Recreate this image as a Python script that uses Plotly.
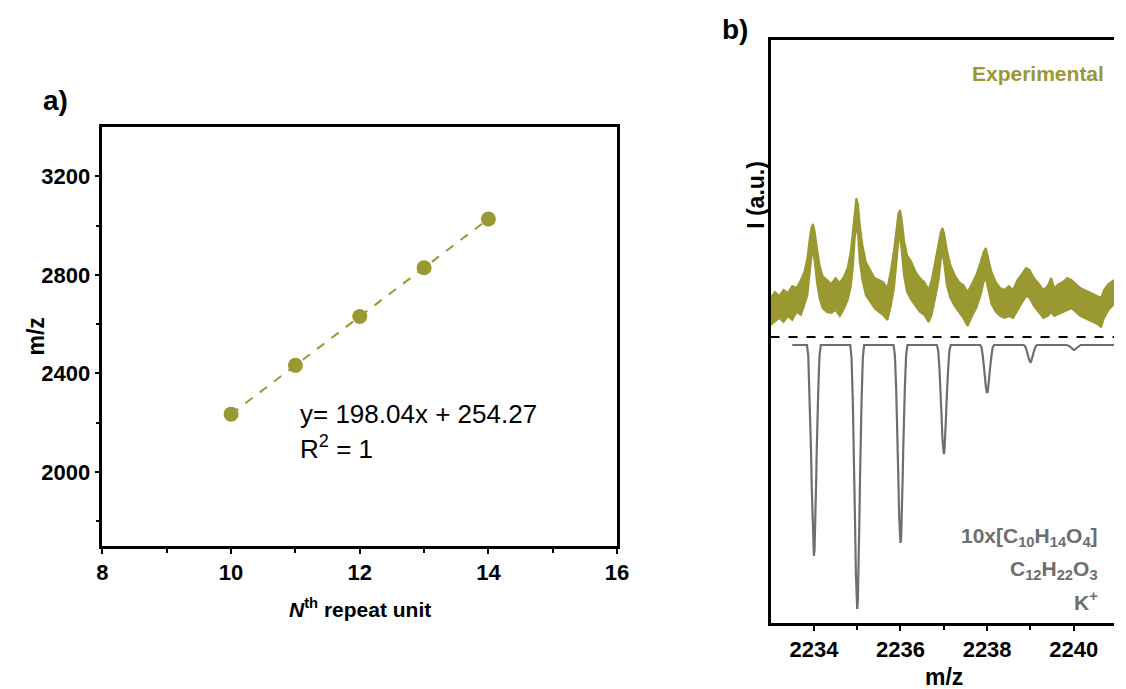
import plotly.graph_objects as go

W, H = 1126, 689
OLIVE = "#9A9831"
GRAY = "#6E6E6E"
FONT = "Liberation Sans, Arial, sans-serif"

# ---------------- Panel a data ----------------
repeat_unit = [10, 11, 12, 13, 14]
mz_values = [2235, 2433, 2631, 2829, 3027]
eq_text = "y= 198.04x + 254.27"
r2_text = "R<sup>2</sup> = 1"

# ---------------- Panel b data ----------------
# experimental trace (noisy band): m/z, upper and lower edge of the band (a.u.)
exp_mz = [2233.00, 2233.10, 2233.20, 2233.30, 2233.40, 2233.50, 2233.60, 2233.70, 2233.78,
          2233.85, 2233.90, 2233.94, 2233.98, 2234.02, 2234.07, 2234.13, 2234.20, 2234.30,
          2234.40, 2234.50, 2234.60, 2234.70, 2234.78, 2234.85, 2234.90, 2234.94, 2234.98,
          2235.02, 2235.06, 2235.12, 2235.20, 2235.30, 2235.40, 2235.50, 2235.60, 2235.70,
          2235.78, 2235.85, 2235.91, 2235.95, 2235.99, 2236.03, 2236.08, 2236.15, 2236.25,
          2236.35, 2236.45, 2236.55, 2236.65, 2236.72, 2236.80, 2236.88, 2236.93, 2236.97,
          2237.01, 2237.07, 2237.15, 2237.25, 2237.35, 2237.45, 2237.55, 2237.65, 2237.75,
          2237.85, 2237.92, 2237.97, 2238.03, 2238.10, 2238.20, 2238.30, 2238.40, 2238.50,
          2238.60, 2238.70, 2238.80, 2238.90, 2238.98, 2239.08, 2239.20, 2239.30, 2239.40,
          2239.48, 2239.55, 2239.65, 2239.75, 2239.85, 2239.95, 2240.05, 2240.15, 2240.25,
          2240.35, 2240.45, 2240.55, 2240.63, 2240.70, 2240.80, 2240.93]
exp_upper = [325, 331, 327, 333, 330, 337, 335, 343, 351,
             365, 383, 395, 399, 391, 375, 358, 347, 343,
             339, 345, 340, 347, 355, 371, 391, 413, 425,
             418, 398, 378, 361, 353, 345, 343, 341, 335,
             353, 373, 395, 409, 413, 403, 383, 368, 361,
             351, 345, 341, 333, 343, 361, 378, 391, 395,
             389, 373, 358, 348, 341, 338, 331, 339, 348,
             361, 371, 375, 365, 351, 341, 335, 333, 337,
             333, 343, 349, 355, 353, 345, 339, 333, 337,
             345, 335, 339, 341, 345, 343, 339, 335, 333,
             331, 329, 327, 325, 333, 339, 343]
exp_lower = [298, 301, 305, 301, 307, 303, 311, 308, 318,
             328, 348, 365, 373, 361, 341, 325, 315, 311,
             310, 313, 307, 315, 323, 336, 355, 383, 398,
             388, 361, 343, 328, 321, 315, 311, 308, 303,
             318, 335, 361, 381, 387, 371, 348, 331, 323,
             317, 311, 308, 301, 308, 325, 343, 363, 371,
             359, 338, 325, 317, 311, 305, 297, 307, 315,
             328, 341, 345, 333, 319, 311, 307, 305, 307,
             305, 313, 320, 327, 325, 317, 311, 305, 307,
             311, 307, 309, 311, 313, 315, 311, 307, 305,
             303, 301, 299, 296, 305, 313, 319]

# simulated isotope pattern (drawn downward from its baseline)
sim_baseline = 278
sim_start, sim_end = 2233.5, 2241.0
sim_peak_mz = [2234, 2235, 2236, 2237, 2238, 2239, 2240]
sim_peak_depth = [211, 264, 198, 109, 48, 17, 5]
# peak profile (offset in m/z, fraction of depth)
shape_offset = [-0.16, -0.13, -0.10, -0.08, -0.066, -0.05, -0.03, -0.015, 0,
                0.015, 0.03, 0.05, 0.066, 0.08, 0.10, 0.13, 0.16]
shape_frac = [0, 0.05, 0.22, 0.36, 0.5, 0.67, 0.87, 0.97, 1,
              0.97, 0.87, 0.67, 0.5, 0.36, 0.22, 0.05, 0]
separator_level = 286

sim_x, sim_y = [sim_start], [sim_baseline]
for c, d in zip(sim_peak_mz, sim_peak_depth):
    for o, f in zip(shape_offset, shape_frac):
        sim_x.append(c + o)
        sim_y.append(sim_baseline - d * f)
sim_x.append(sim_end)
sim_y.append(sim_baseline)

band_x = exp_mz + exp_mz[::-1]
band_y = exp_upper + exp_lower[::-1]

fig = go.Figure()

# panel a
fig.add_trace(go.Scatter(
    x=repeat_unit, y=mz_values, mode="lines+markers",
    line=dict(color=OLIVE, width=2, dash="dash"),
    marker=dict(color=OLIVE, size=15),
    xaxis="x", yaxis="y", showlegend=False))

# panel b
fig.add_trace(go.Scatter(
    x=band_x, y=band_y, mode="lines", fill="toself", fillcolor=OLIVE,
    line=dict(color=OLIVE, width=2), xaxis="x2", yaxis="y2", showlegend=False))
fig.add_trace(go.Scatter(
    x=sim_x, y=sim_y, mode="lines", line=dict(color=GRAY, width=2.2),
    xaxis="x2", yaxis="y2", showlegend=False))
fig.add_trace(go.Scatter(
    x=[2233, 2241], y=[separator_level, separator_level], mode="lines",
    line=dict(color="black", width=2, dash="dash"),
    xaxis="x2", yaxis="y2", showlegend=False))

tickfont = dict(family=FONT, size=22, color="black", weight="bold")

def px(x):
    return x / W

def py(y):
    return 1 - y / H

common = dict(showgrid=False, zeroline=False, showline=True, linecolor="black",
              linewidth=2.5, ticks="outside", ticklen=5, tickwidth=2,
              tickcolor="black", tickfont=tickfont)
minor_style = dict(ticks="outside", ticklen=4, tickwidth=2, tickcolor="black")

fig.update_layout(
    width=W, height=H, margin=dict(l=0, r=0, t=0, b=0),
    paper_bgcolor="white", plot_bgcolor="white",
    xaxis=dict(domain=[px(98), px(621)], range=[8, 16], tickvals=[8, 10, 12, 14, 16],
               mirror=True, minor=dict(tickvals=[9, 11, 13, 15], **minor_style),
               anchor="y", **common),
    yaxis=dict(domain=[py(546), py(127)], range=[1700, 3400],
               tickvals=[2000, 2400, 2800, 3200], mirror=True,
               minor=dict(tickvals=[1800, 2200, 2600, 3000], **minor_style),
               anchor="x", **common),
    xaxis2=dict(domain=[px(777), 1.0], range=[2233, 2240.93],
                tickvals=[2234, 2236, 2238, 2240], mirror=True,
                minor=dict(tickvals=[2235, 2237, 2239], **minor_style),
                anchor="y2", **common),
    yaxis2=dict(domain=[py(623), py(40)], range=[0, 583],
                showgrid=False, zeroline=False, showline=True, linecolor="black",
                linewidth=2.5, mirror=False, showticklabels=False, ticks="",
                anchor="x2"),
)

def ann(text, x, y, size, color="black", xanchor="center", angle=0, bold=True):
    fig.add_annotation(text=text, x=px(x), y=py(y), xref="paper", yref="paper",
                       showarrow=False, xanchor=xanchor, yanchor="middle", textangle=angle,
                       font=dict(family=FONT, size=size, color=color,
                                 weight="bold" if bold else "normal"))

ann("a)", 50, 101, 28)
ann("b)", 741, 30, 28)
ann("m/z", 30, 337, 23, angle=-90)
ann("<i>N</i><sup>th</sup> repeat unit", 360, 608, 21)
ann(eq_text, 297, 414, 26, xanchor="left", bold=False)
ann(r2_text, 297, 447, 26, xanchor="left", bold=False)
ann("I (a.u.)", 762, 195, 23, angle=-90)
ann("m/z", 953, 677, 23)
ann("Experimental", 1118, 73, 21, color=OLIVE, xanchor="right")
ann("10x[C<sub>10</sub>H<sub>14</sub>O<sub>4</sub>]", 1112, 537, 21, color=GRAY, xanchor="right")
ann("C<sub>12</sub>H<sub>22</sub>O<sub>3</sub>", 1112, 570, 21, color=GRAY, xanchor="right")
ann("K<sup>+</sup>", 1112, 601, 21, color=GRAY, xanchor="right")

fig.write_html("out.html")
